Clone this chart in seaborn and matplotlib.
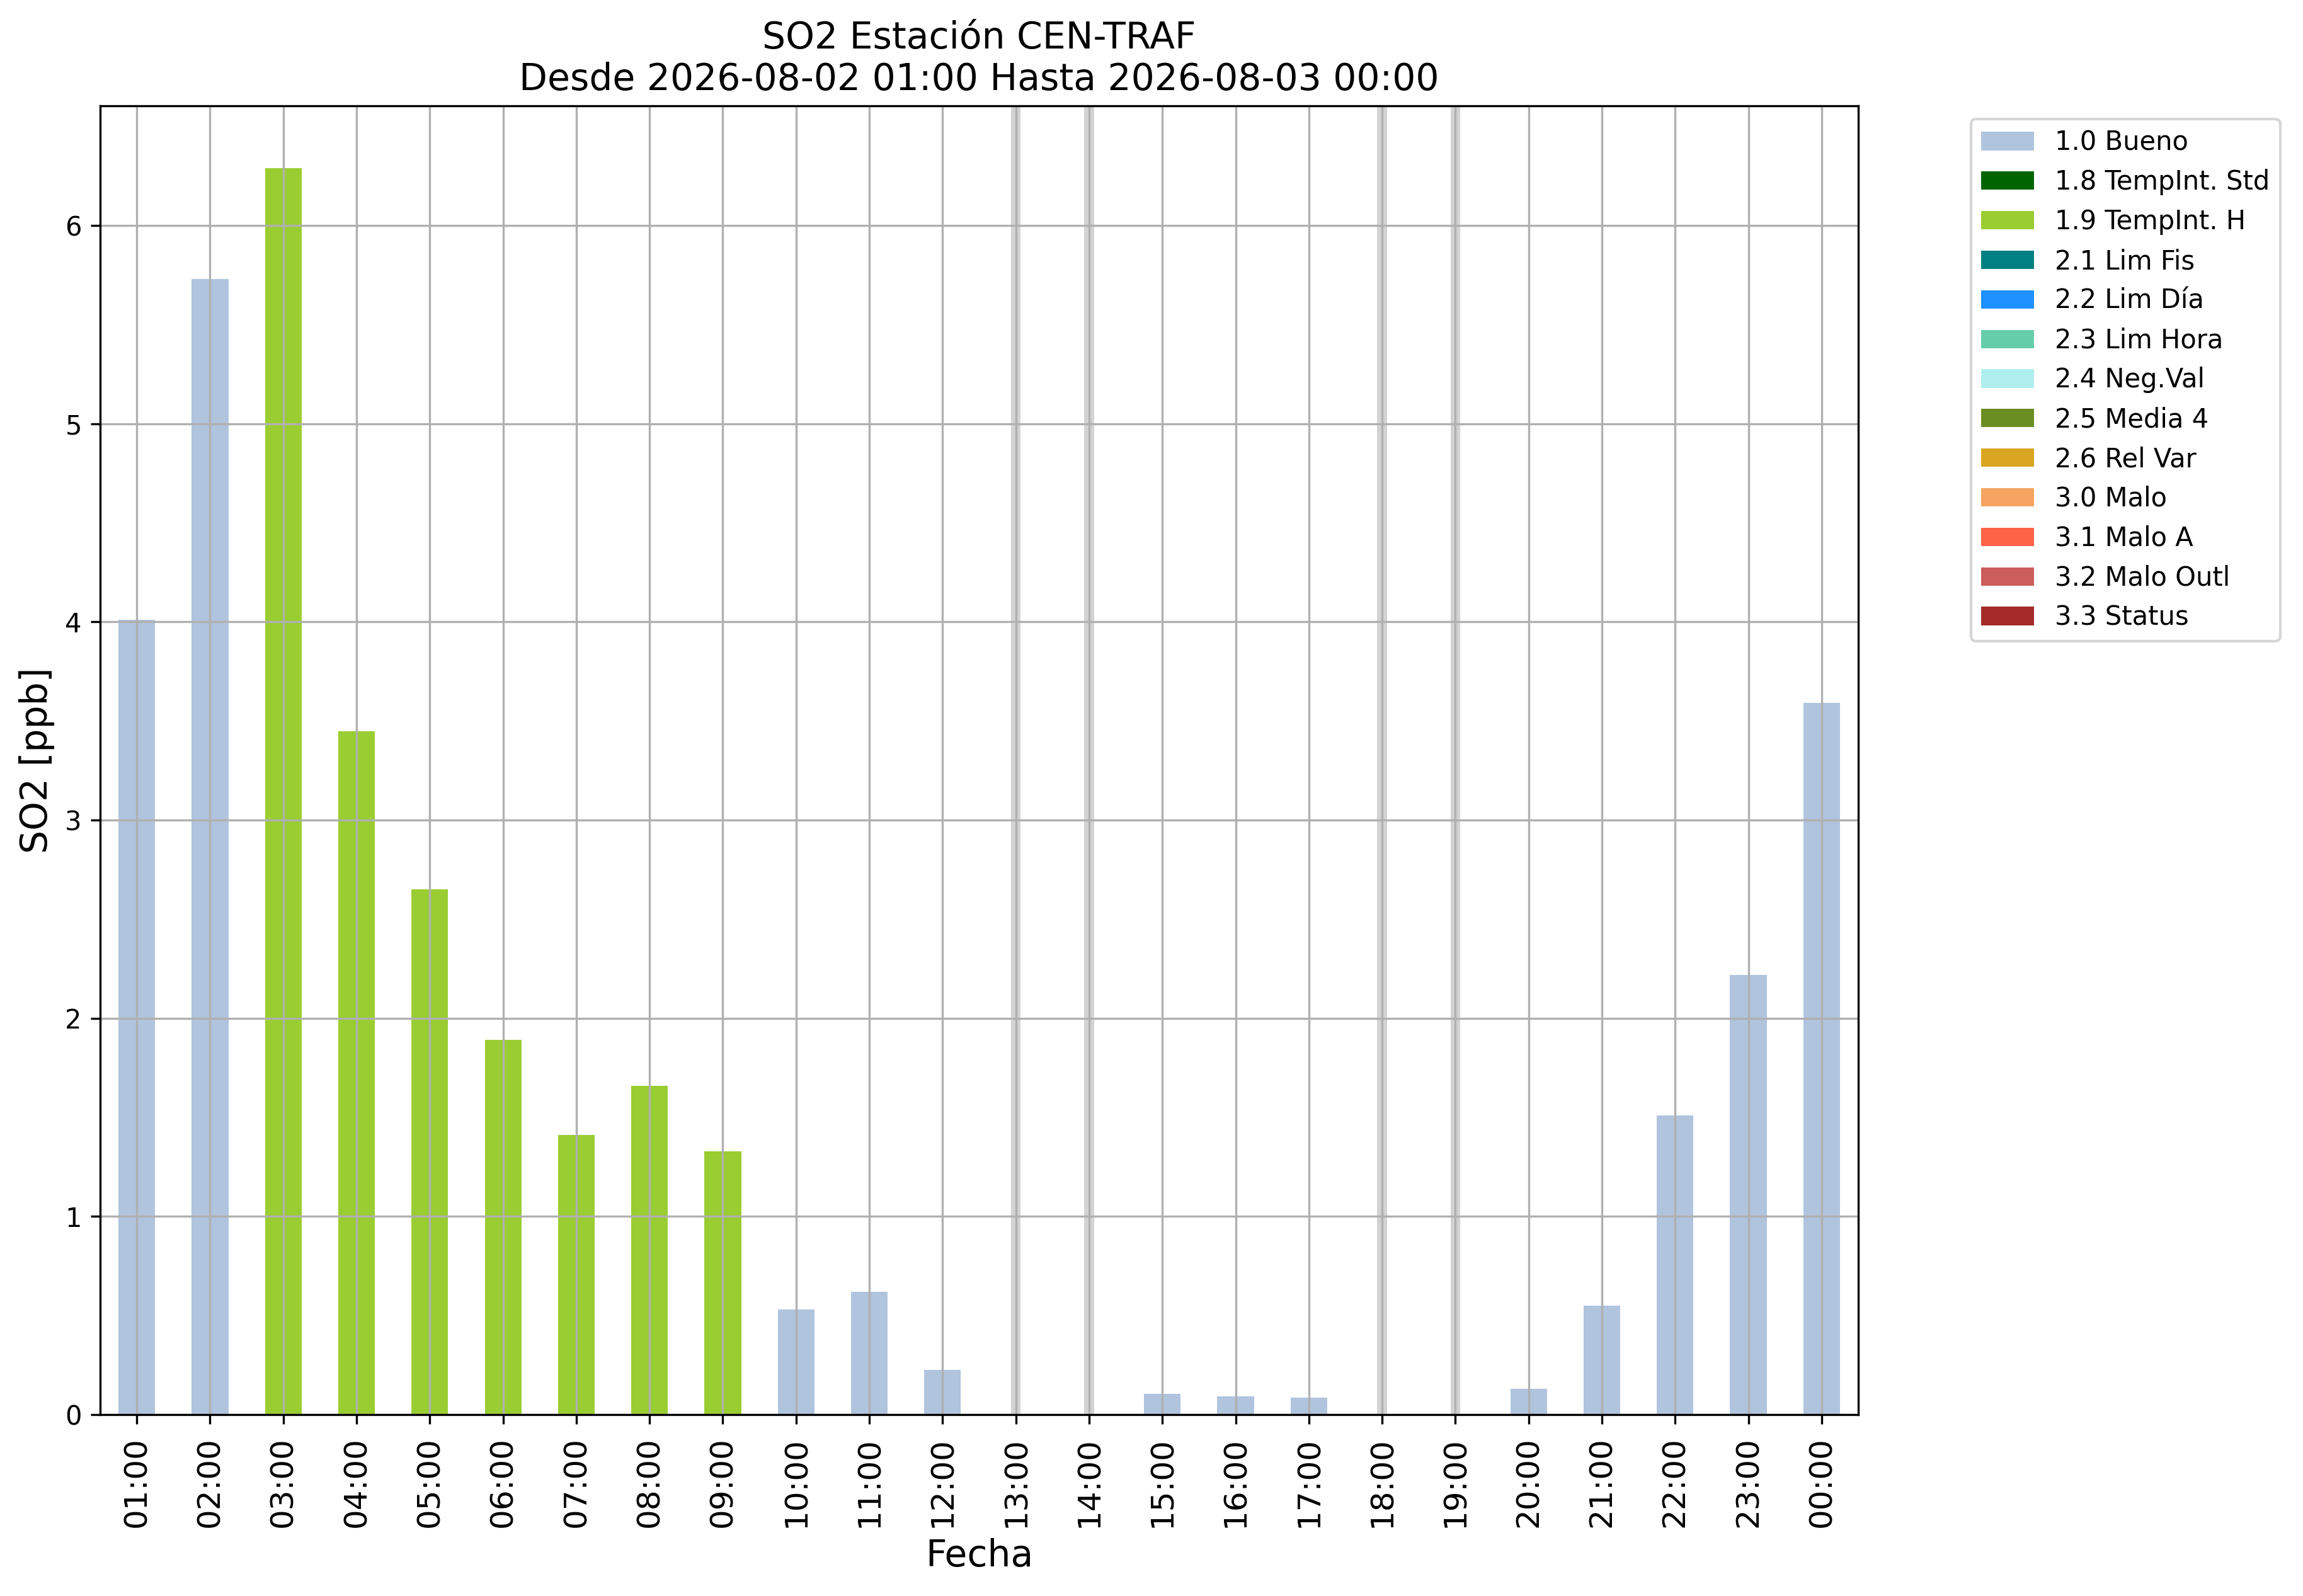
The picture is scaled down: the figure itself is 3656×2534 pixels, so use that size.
import numpy as np
import pandas as pd
import matplotlib
matplotlib.use("Agg")
import matplotlib.pyplot as plt
from matplotlib.patches import Patch
import seaborn as sns

# ---- data ----
hours = ["01:00", "02:00", "03:00", "04:00", "05:00", "06:00", "07:00", "08:00",
         "09:00", "10:00", "11:00", "12:00", "13:00", "14:00", "15:00", "16:00",
         "17:00", "18:00", "19:00", "20:00", "21:00", "22:00", "23:00", "00:00"]
so2 = [4.01, 5.73, 6.29, 3.45, 2.65, 1.89, 1.41, 1.66, 1.33, 0.53, 0.62, 0.225,
       np.nan, np.nan, 0.105, 0.092, 0.086, np.nan, np.nan, 0.13, 0.55, 1.51, 2.22, 3.59]
flags = ["1.0 Bueno", "1.0 Bueno", "1.9 TempInt. H", "1.9 TempInt. H", "1.9 TempInt. H",
         "1.9 TempInt. H", "1.9 TempInt. H", "1.9 TempInt. H", "1.9 TempInt. H",
         "1.0 Bueno", "1.0 Bueno", "1.0 Bueno", None, None, "1.0 Bueno", "1.0 Bueno",
         "1.0 Bueno", None, None, "1.0 Bueno", "1.0 Bueno", "1.0 Bueno", "1.0 Bueno", "1.0 Bueno"]
flag_labels = ["1.0 Bueno", "1.8 TempInt. Std", "1.9 TempInt. H", "2.1 Lim Fis", "2.2 Lim Día",
               "2.3 Lim Hora", "2.4 Neg.Val", "2.5 Media 4", "2.6 Rel Var", "3.0 Malo",
               "3.1 Malo A", "3.2 Malo Outl", "3.3 Status"]
flag_colors = ["lightsteelblue", "darkgreen", "yellowgreen", "teal", "dodgerblue",
               "mediumaquamarine", "paleturquoise", "olivedrab", "goldenrod", "sandybrown",
               "tomato", "indianred", "brown"]

df = pd.DataFrame({"Fecha": hours, "SO2": so2, "Flag": flags})
palette = dict(zip(flag_labels, flag_colors))

W, H, DPI = 3656, 2534, 300
fig = plt.figure(figsize=(W / DPI, H / DPI), dpi=DPI)
ax = fig.add_axes([159 / W, 1 - 2246 / H, (2950 - 159) / W, (2246 - 168) / H])

plot_df = df.dropna(subset=["SO2"])
sns.barplot(data=plot_df, x="Fecha", y="SO2", hue="Flag", order=hours,
            hue_order=flag_labels, palette=palette, dodge=False, width=0.5,
            saturation=1, legend=False, ax=ax, zorder=1)

# missing-data markers
for i, v in enumerate(so2):
    if np.isnan(v):
        ax.axvspan(i - 0.067, i + 0.067, color="lightgray", zorder=0.5, lw=0)

ax.set_xlim(-0.5, len(hours) - 0.5)
ax.set_ylim(0, 1.05 * np.nanmax(so2))
ax.set_axisbelow(False)
ax.grid(True, color="#b0b0b0", linewidth=0.8, zorder=2)
for s in ax.spines.values():
    s.set_color("black")
    s.set_linewidth(0.8)
    s.set_zorder(3)

ax.set_xticks(range(len(hours)))
ax.set_xticklabels(hours, rotation=90, fontsize=12)
ax.tick_params(axis="y", labelsize=10)
ax.tick_params(axis="both", direction="out", length=3.5, width=0.8, color="black")
ax.tick_params(axis="x", pad=5)
ax.set_xlabel("Fecha", fontsize=14, labelpad=4)
ax.set_ylabel("SO2 [ppb]", fontsize=14)
ax.set_title("SO2 Estación CEN-TRAF\nDesde 2026-08-02 01:00 Hasta 2026-08-03 00:00", fontsize=14)

handles = [Patch(facecolor=c, label=l) for l, c in zip(flag_labels, flag_colors)]
ax.legend(handles=handles, bbox_to_anchor=(1.0565, 1), loc="upper left", fontsize=10)

fig.savefig("out.png", dpi=DPI)
